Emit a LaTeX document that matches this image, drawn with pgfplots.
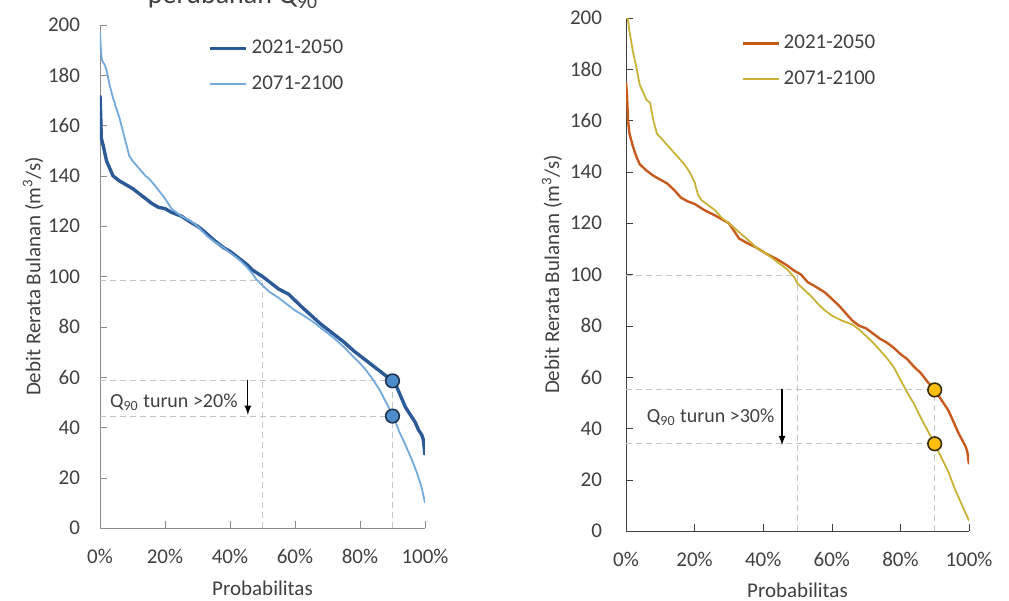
\documentclass[border=0pt]{standalone}
\usepackage{pgfplots}
\pgfplotsset{compat=1.18}
\usepackage{fontspec}
\setmainfont{Carlito}
\definecolor{txt}{HTML}{404040}
\definecolor{axgray}{HTML}{8C8C8C}
\definecolor{guidegray}{HTML}{C4C4C4}
\definecolor{dblue}{HTML}{2C5A96}
\definecolor{lblue}{HTML}{72AADC}
\definecolor{mblue}{HTML}{4E8CCB}
\definecolor{mborder}{HTML}{1E3350}
\definecolor{dorange}{HTML}{C75B1E}
\definecolor{lyellow}{HTML}{C9B236}
\definecolor{gold}{HTML}{FFBE10}
\definecolor{gborder}{HTML}{3A2C05}
\pgfplotsset{
  guideline/.style={guidegray, densely dashed, line width=0.5pt, forget plot},
  fdc/.style={
    scale only axis,
    xmin=0, xmax=100, ymin=0, ymax=200,
    axis x line*=bottom, axis y line*=left,
    tick align=inside, major tick length=3.5pt,
    xtick={0,20,40,60,80,100},
    xticklabels={0\%,20\%,40\%,60\%,80\%,100\%},
    ytick={0,20,...,200},
    /pgf/number format/assume math mode=true,
    tick label style={font=\fontsize{10.5}{12}\selectfont, text=txt},
    label style={font=\fontsize{10.5}{12}\selectfont, text=txt},
    xticklabel style={yshift=-7pt},
    xlabel={Probabilitas},
    ylabel={Debit Rerata Bulanan (m\textsuperscript{3}/s)},
    legend cell align=left,
    legend style={draw=none, fill=none, font=\fontsize{10.5}{12}\selectfont, text=txt, row sep=5.5pt, inner sep=0pt},
    legend image code/.code={\draw[##1] (0pt,0pt) -- (18pt,0pt);},
  }
}
\begin{document}
\begin{tikzpicture}
\path[use as bounding box] (0pt,0pt) rectangle (504.5pt,300.5pt);
\node[anchor=base, font=\fontsize{14}{16}\selectfont, text=txt] at (116.5pt,298.5pt) {perubahan Q\textsubscript{90}};

% ---------------- left panel ----------------
\begin{axis}[fdc, at={(50pt,36.5pt)}, anchor=origin, width=162.5pt, height=251.5pt,
  axis line style={axgray}, tick style={axgray},
  yticklabel style={xshift=-6.5pt},
  ylabel style={at={(axis description cs:-0.206,0.5)}, anchor=center},
  xlabel style={at={(axis description cs:0.5,-0.119)}, anchor=center},
  legend style={at={(axis description cs:0.332,0.979)}, anchor=north west}]
\addplot[guideline] coordinates {(0,98.5) (50,98.5)};
\addplot[guideline] coordinates {(50,0) (50,98.5)};
\addplot[guideline] coordinates {(0,58.5) (90,58.5)};
\addplot[guideline] coordinates {(0,44.5) (90,44.5)};
\addplot[guideline] coordinates {(90,0) (90,58.5)};
\addplot[dblue, line width=1.7pt] coordinates {
(0,172) (0.2,165) (0.4,155) (1,152) (2,146) (3,143) (4,140) (6,138) (8,136.5) (10,135)
(12,133) (14,131) (16,129) (18,127.5) (20,127) (22,125.5) (25,124) (28,121.5) (30,120)
(32,118) (35,114.5) (38,111.5) (40,110) (43,107) (45,105) (47,102.5) (50,100) (53,97)
(55,95) (58,93) (60,90.5) (62,88) (65,84.5) (68,81) (70,79) (72,77) (75,74) (78,70.5)
(80,68.5) (82,66.5) (85,63.5) (88,60.5) (90,58.5) (91,57) (92,54) (93,51) (94,48)
(95,46) (96,44) (97,42) (98,39) (99,37) (99.5,35) (100,29)};
\addlegendentry{2021-2050}
\addplot[lblue, line width=0.9pt] coordinates {
(0,197) (0.3,190) (0.6,186) (1.5,184) (2,182) (3,176) (4,171) (5,167) (6,163) (7,158)
(8,153) (9,148) (10,146) (12,143) (14,140) (15,139) (17,136) (20,131) (22,127) (25,124)
(28,122) (30,120) (33,116) (35,114) (38,111.5) (40,109.5) (43,106.5) (45,104) (47,101)
(48,99) (50,96.5) (52,94) (55,91.5) (58,88.5) (60,86.5) (62,85) (65,82.5) (68,79.5)
(70,77.5) (72,75.5) (75,72) (78,68) (80,65.5) (82,62.5) (84,59) (86,55) (88,50) (90,45)
(91,42) (92,38.5) (94,33) (96,27) (97.5,22) (99,16) (100,10)};
\addlegendentry{2071-2100}
\addplot[only marks, mark=*, mark size=3.4pt, mark options={fill=mblue, draw=mborder, line width=0.8pt}, forget plot]
  coordinates {(90,58.5) (90,44.5)};
\draw[-latex, black, line width=0.6pt] (axis cs:45.5,59) -- (axis cs:45.5,45);
\node[anchor=west, font=\fontsize{10}{12}\selectfont, text=txt, inner sep=0pt] at (axis cs:3,50) {Q\textsubscript{90} turun >20\%};
\end{axis}

% ---------------- right panel ----------------
\begin{axis}[fdc, at={(313pt,35pt)}, anchor=origin, width=171.5pt, height=256.5pt,
  axis line style={txt}, tick style={txt},
  yticklabel style={xshift=-8.5pt},
  ylabel style={at={(axis description cs:-0.216,0.5)}, anchor=center},
  xlabel style={at={(axis description cs:0.5,-0.115)}, anchor=center},
  legend style={at={(axis description cs:0.335,0.975)}, anchor=north west}]
\addplot[guideline] coordinates {(0,99.5) (50,99.5)};
\addplot[guideline] coordinates {(50,0) (50,99.5)};
\addplot[guideline] coordinates {(0,55) (90,55)};
\addplot[guideline] coordinates {(0,34) (90,34)};
\addplot[guideline] coordinates {(90,0) (90,55)};
\addplot[dorange, line width=1.2pt] coordinates {
(0,175) (0.3,170) (0.6,160) (1,155) (2,150) (3,146) (4,143) (6,140.5) (8,138.5) (10,137)
(12,135.5) (14,133) (16,130) (18,128.5) (20,127.5) (23,125) (26,123) (28,121.5) (30,120)
(31,118) (33,114) (35,112.5) (38,110.5) (41,108) (44,106) (47,103.5) (49,101.5) (51,100)
(53,97) (55,95.5) (58,93) (60,90.5) (62,88) (64,85) (66,82) (68,80) (70,79) (72,77)
(74,75) (76,73.5) (78,71.5) (80,69) (82,67) (84,64) (86,61.5) (88,58) (90,55) (92,51)
(94,47) (95,44) (96,41) (97,38) (98,35.5) (99,33) (99.5,31) (100,26)};
\addlegendentry{2021-2050}
\addplot[lyellow, line width=0.9pt] coordinates {
(0,200) (0.5,200) (1,195) (2,187) (3,181) (4,174) (5,171) (6,168) (7,167) (8,160) (9,155)
(11,152) (13,149) (15,146) (17,143) (18.5,140) (20,136) (21,131) (22,129) (24,127) (26,125)
(28,122) (30,120) (33,116.5) (36,113) (38,110.5) (41,108) (44,105) (47,102) (49,99)
(50,96.5) (52,94) (54,91.5) (56,88.5) (58,86) (60,84) (63,82) (66,80.5) (68,78.5) (70,76)
(72,73.5) (74,70.5) (76,67.5) (78,64) (80,59) (82,54) (84,49.5) (86,44) (88,39) (90,34)
(92,28.5) (94,23) (96,16) (98,10) (100,4)};
\addlegendentry{2071-2100}
\addplot[only marks, mark=*, mark size=3.4pt, mark options={fill=gold, draw=gborder, line width=0.8pt}, forget plot]
  coordinates {(90,55) (90,34)};
\draw[-latex, black, line width=0.6pt] (axis cs:45.5,55.5) -- (axis cs:45.5,33.5);
\node[anchor=west, font=\fontsize{10}{12}\selectfont, text=txt, inner sep=0pt] at (axis cs:6,44.5) {Q\textsubscript{90} turun >30\%};
\end{axis}
\end{tikzpicture}
\end{document}
